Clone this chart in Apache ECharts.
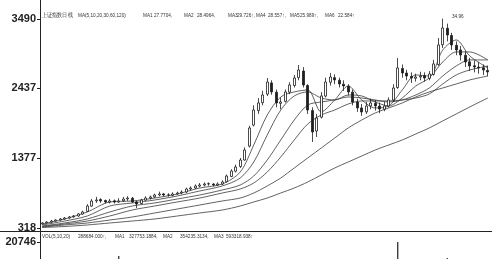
<!DOCTYPE html>
<html><head><meta charset="utf-8">
<script src="https://cdn.jsdelivr.net/npm/echarts@6/dist/echarts.min.js"></script>
<style>html,body{margin:0;padding:0;background:#fff}#c{width:496px;height:259px}</style>
</head><body><div id="c"></div>
<script>
// [open, close, low, high]
const candles = [
[380,394,370,405],[395,409,385,420],[410,424,400,440],[425,439,418,450],[440,455,430,470],
[455,470,445,485],[470,485,460,500],[488,500,475,515],[500,531,490,545],[530,561,520,580],
[570,652,560,680],[650,728,640,760],[730,743,700,790],[750,728,700,770],[735,713,690,750],
[710,728,690,760],[730,713,690,750],[712,728,700,770],[730,758,715,790],[760,773,730,800],
[770,713,700,790],[715,682,620,730],[690,743,680,760],[740,773,730,800],[770,789,750,810],
[790,819,775,840],[820,834,800,870],[835,819,800,850],[820,819,795,845],[815,834,800,860],
[835,849,820,870],[850,864,830,890],[865,910,850,930],[910,925,890,950],[925,956,910,980],
[955,971,935,1000],[970,986,950,1010],[990,986,960,1010],[985,971,950,1000],[970,986,955,1010],
[985,1016,970,1040],[1020,1107,1010,1130],[1100,1183,1090,1210],[1180,1244,1160,1280],[1250,1350,1230,1380],
[1350,1502,1340,1540],[1560,1836,1540,1870],[1880,2109,1860,2180],[2100,2216,2050,2290],[2220,2337,2180,2400],
[2350,2534,2320,2595],[2520,2383,2340,2560],[2380,2216,2150,2420],[2210,2231,2120,2300],[2240,2383,2220,2420],
[2380,2489,2350,2530],[2480,2595,2450,2640],[2600,2716,2560,2792],[2700,2489,2450,2760],[2480,2109,2050,2500],
[2100,1775,1623,2150],[1790,1988,1700,2050],[2000,2322,1980,2380],[2320,2534,2300,2600],[2530,2610,2480,2671],
[2600,2565,2500,2650],[2560,2504,2450,2600],[2500,2474,2400,2560],[2470,2383,2330,2500],[2380,2231,2180,2420],
[2230,2140,2080,2280],[2140,2079,2020,2200],[2080,2170,2050,2230],[2170,2216,2120,2280],[2210,2170,2100,2260],
[2170,2124,2060,2220],[2120,2170,2090,2230],[2170,2261,2150,2300],[2260,2443,2240,2500],[2450,2747,2430,2899],
[2740,2671,2600,2800],[2670,2625,2560,2720],[2620,2595,2520,2680],[2590,2610,2540,2660],[2610,2625,2560,2690],
[2630,2595,2540,2680],[2590,2656,2560,2700],[2650,2808,2630,2870],[2800,3096,2780,3200],[3100,3354,3050,3496],
[3350,3248,3150,3420],[3240,3096,3020,3280],[3090,3020,2940,3150],[3020,2944,2860,3080],[2940,2838,2760,3000],
[2840,2777,2700,2900],[2780,2762,2680,2860],[2760,2747,2660,2840],[2750,2716,2640,2800],[2710,2686,2620,2780]
];
const volumes = [
2000,2500,2200,3000,2800,3500,3200,4000,4500,5200,
7000,9000,6000,5000,5500,6000,7000,15906,8000,7000,
9000,10000,6000,5500,5000,6500,6000,5000,5500,6000,
6200,7000,8000,7500,8000,7500,6000,5500,5000,6000,
7000,9000,10000,11000,12000,13000,13200,12500,12000,11000,
13000,12000,11000,9000,10000,11000,12000,13000,12500,13000,
14868,12000,11000,10000,9000,8500,8000,7500,8000,9000,
8500,8000,7000,7500,7000,6500,7000,9000,12000,20746,
13000,10000,9000,8500,8000,8500,9000,12000,13000,13300,
15214,12000,10000,9000,8500,8000,7500,7000,7500,7000
];
// moving averages: [bar index, value]
const ma5 = [[0,379],[5,455],[10,561],[15,713],[20,728],[25,773],[30,834],[35,925],[40,986],[44,1168],[47,1578],[50,2033],[53,2307],[56,2383],[59,2413],[62,2079],[65,2261],[68,2473],[71,2261],[74,2140],[77,2170],[80,2413],[83,2641],[86,2625],[89,3020],[92,3172],[95,2929],[99,2747]];
const ma10 = [[0,364],[5,424],[10,500],[15,652],[20,698],[25,743],[30,804],[35,880],[40,956],[44,1077],[47,1320],[50,1730],[53,2109],[56,2322],[59,2383],[62,2291],[65,2261],[68,2337],[71,2322],[74,2231],[77,2170],[80,2291],[83,2473],[86,2595],[89,2839],[92,2990],[95,2990],[99,2869]];
const ma20 = [[0,348],[5,394],[10,455],[15,561],[20,652],[25,698],[30,758],[35,819],[40,895],[44,971],[47,1107],[50,1350],[53,1654],[56,1957],[59,2185],[62,2231],[65,2261],[68,2307],[71,2291],[74,2261],[77,2231],[80,2261],[83,2337],[86,2443],[89,2625],[92,2777],[95,2869],[99,2869]];
const ma30 = [[0,341],[5,379],[10,424],[15,500],[20,591],[25,652],[30,713],[35,773],[40,849],[44,910],[47,1001],[50,1168],[53,1396],[56,1654],[59,1897],[62,2033],[65,2109],[68,2200],[71,2246],[74,2246],[77,2246],[80,2261],[83,2291],[86,2352],[89,2504],[92,2641],[95,2716],[99,2777]];
const ma60 = [[0,333],[5,364],[10,394],[15,439],[20,485],[25,546],[30,606],[35,667],[40,728],[44,773],[47,849],[50,956],[53,1077],[56,1229],[59,1381],[62,1532],[65,1684],[68,1836],[71,1957],[74,2064],[77,2140],[80,2216],[83,2307],[86,2383],[89,2443],[92,2504],[95,2565],[99,2625]];
const ma120 = [[0,326],[5,341],[10,364],[15,394],[20,424],[25,455],[30,500],[35,546],[40,591],[44,652],[47,713],[50,773],[53,849],[56,925],[59,1016],[62,1123],[65,1229],[68,1320],[71,1411],[74,1502],[77,1578],[80,1654],[83,1745],[86,1836],[89,1943],[92,2049],[95,2155],[99,2291]];
const priceTicks = [318, 1377, 2437, 3490];
const volTicks = [20746];
const categories = candles.map((_, i) => String(i + 1));

const headerTexts = [
  ['上证指数日线', 42], ['MA(5,10,20,30,60,120)', 78], ['MA1', 143], ['27.7704,', 154],
  ['MA2', 184], ['28.4964,', 197], ['MA3', 228], ['29.726↑,', 237], ['MA4', 256], ['28.557↑,', 268],
  ['MA5', 290], ['25.989↑,', 300], ['MA6', 325], ['22.584↑', 338]
];
const volTexts = [
  ['VOL(5,10,20)', 42], ['288684.000↑,', 78], ['MA1', 115], ['327753.1884,', 129],
  ['MA2', 163], ['354235.3134,', 180], ['MA3', 214], ['593318.938↑', 226]
];
const maxLabel = '34.96';

const chart = echarts.init(document.getElementById('c'), null, {renderer: 'canvas'});
const lineStyle = {color: '#3a3a3a', width: 0.8};
function maSeries(name, data) {
  return {name, type: 'line', data, smooth: 0.3, symbol: 'none', xAxisIndex: 0, yAxisIndex: 0,
    lineStyle, silent: true, z: 3};
}
const txt = (s, x, y) => ({type: 'text', x, y, scaleX: 0.85,
  style: {text: s, font: '5.5px "Liberation Sans"', fill: '#333', textVerticalAlign: 'middle'}});
const graphics = [
  {type: 'line', shape: {x1: 40.5, y1: 0, x2: 40.5, y2: 259}, style: {stroke: '#222', lineWidth: 1}},
  {type: 'line', shape: {x1: 0, y1: 231.5, x2: 492, y2: 231.5}, style: {stroke: '#222', lineWidth: 1}}
];
headerTexts.forEach(([s, x]) => graphics.push(txt(s, x, 15)));
volTexts.forEach(([s, x]) => graphics.push(txt(s, x, 236)));
graphics.push(txt(maxLabel, 452, 16));

chart.setOption({
  animation: false,
  backgroundColor: '#fff',
  grid: [
    {left: 40, right: 6, top: 19, height: 209, outerBoundsMode: 'none', containLabel: false},
    {left: 40, right: 6, top: 242, height: 60, outerBoundsMode: 'none', containLabel: false}
  ],
  xAxis: [
    {type: 'category', gridIndex: 0, data: categories, boundaryGap: true,
      axisLine: {show: false}, axisTick: {show: false}, axisLabel: {show: false}, splitLine: {show: false}},
    {type: 'category', gridIndex: 1, data: categories, boundaryGap: true,
      axisLine: {show: false}, axisTick: {show: false}, axisLabel: {show: false}, splitLine: {show: false}}
  ],
  yAxis: [
    {type: 'value', gridIndex: 0, min: 318, max: 3490,
      axisLine: {show: false},
      axisTick: {show: true, length: 3, customValues: priceTicks, lineStyle: {color: '#222'}},
      axisLabel: {customValues: priceTicks, formatter: v => String(v), color: '#222', fontSize: 11,
        fontWeight: 'bold', fontFamily: 'Liberation Sans', margin: 4},
      splitLine: {show: false}},
    {type: 'value', gridIndex: 1, min: 0, max: 20746,
      axisLine: {show: false},
      axisTick: {show: true, length: 3, customValues: volTicks, lineStyle: {color: '#222'}},
      axisLabel: {customValues: volTicks, formatter: v => String(v), color: '#222', fontSize: 11,
        fontWeight: 'bold', fontFamily: 'Liberation Sans', margin: 4},
      splitLine: {show: false}}
  ],
  series: [
    {type: 'candlestick', data: candles, xAxisIndex: 0, yAxisIndex: 0,
      barWidth: 2.4,
      itemStyle: {color: '#ffffff', color0: '#1e1e1e', borderColor: '#1e1e1e', borderColor0: '#1e1e1e', borderWidth: 0.8},
      z: 4},
    maSeries('MA5', ma5), maSeries('MA10', ma10), maSeries('MA20', ma20),
    maSeries('MA30', ma30), maSeries('MA60', ma60), maSeries('MA120', ma120),
    {type: 'bar', data: volumes, xAxisIndex: 1, yAxisIndex: 1, barWidth: 1.2,
      itemStyle: {color: '#1e1e1e'}}
  ],
  graphic: graphics
});
</script></body></html>
